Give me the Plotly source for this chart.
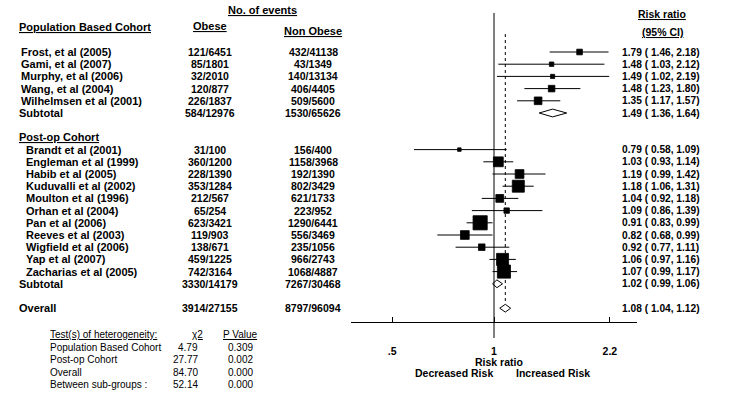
import math
import plotly.graph_objects as go

# ---------------- data ----------------
pop_studies = ["Frost, et al (2005)", "Gami, et al (2007)", "Murphy, et al (2006)",
               "Wang, et al (2004)", "Wilhelmsen et al (2001)"]
pop_obese = ["121/6451", "85/1801", "32/2010", "120/877", "226/1837"]
pop_nonobese = ["432/41138", "43/1349", "140/13134", "406/4405", "509/5600"]
pop_rr = [1.79, 1.48, 1.49, 1.48, 1.35]
pop_lo = [1.46, 1.03, 1.02, 1.23, 1.17]
pop_hi = [2.18, 2.12, 2.19, 1.80, 1.57]
pop_weight = [2.6, 1.6, 1.4, 3.5, 4.8]

post_studies = ["Brandt et al (2001)", "Engleman et al (1999)", "Habib et al (2005)",
                "Kuduvalli et al (2002)", "Moulton et al (1996)", "Orhan et al (2004)",
                "Pan et al (2006)", "Reeves et al (2003)", "Wigfield et al (2006)",
                "Yap et al (2007)", "Zacharias et al (2005)"]
post_obese = ["31/100", "360/1200", "228/1390", "353/1284", "212/567", "65/254",
              "623/3421", "119/903", "138/671", "459/1225", "742/3164"]
post_nonobese = ["156/400", "1158/3968", "192/1390", "802/3429", "621/1733", "223/952",
                 "1290/6441", "556/3469", "235/1056", "966/2743", "1068/4887"]
post_rr = [0.79, 1.03, 1.19, 1.18, 1.04, 1.09, 0.91, 0.82, 0.92, 1.06, 1.07]
post_lo = [0.58, 0.93, 0.99, 1.06, 0.92, 0.86, 0.83, 0.68, 0.77, 0.97, 0.99]
post_hi = [1.09, 1.14, 1.42, 1.31, 1.18, 1.39, 0.99, 0.99, 1.11, 1.16, 1.17]
post_weight = [1.0, 7.9, 6.2, 11.8, 5.0, 2.4, 16.4, 6.2, 3.5, 11.8, 14.0]

pooled_labels = ["Subtotal", "Subtotal", "Overall"]
pooled_obese = ["584/12976", "3330/14179", "3914/27155"]
pooled_nonobese = ["1530/65626", "7267/30468", "8797/96094"]
pooled_rr = [1.49, 1.02, 1.08]
pooled_lo = [1.36, 0.99, 1.04]
pooled_hi = [1.64, 1.06, 1.12]

het_labels = ["Population Based Cohort", "Post-op Cohort", "Overall", "Between sub-groups :"]
het_chi2 = ["4.79", "27.77", "84.70", "52.14"]
het_p = ["0.309", "0.002", "0.000", "0.000"]

tick_vals = [0.5, 1, 2.2]
tick_text = [".5", "1", "2.2"]

# ---------------- layout helpers ----------------
W, H = 744, 396
ROW0_PX, ROW_PX = 52.0, 12.2          # pixel y of row 0, pixels per row


def row_of(py):
    return (py - ROW0_PX) / ROW_PX


def px(x):
    return x / W


pop_rows = list(range(0, 5))
pop_sub_row = 5
post_header_row = 7
post_rows = list(range(8, 19))
post_sub_row = 19
overall_row = 21
pooled_rows = [pop_sub_row, post_sub_row, overall_row]

BLACK = "#000000"
FONT = "Liberation Sans, Arial, sans-serif"

fig = go.Figure()

# CI lines
ci_x, ci_y = [], []
for rows, lo, hi in [(pop_rows, pop_lo, pop_hi), (post_rows, post_lo, post_hi)]:
    for r, a, b in zip(rows, lo, hi):
        ci_x += [a, b, None]
        ci_y += [r, r, None]
fig.add_trace(go.Scatter(x=ci_x, y=ci_y, mode="lines",
                         line=dict(color=BLACK, width=1), hoverinfo="skip",
                         showlegend=False))

# weighted squares
all_rows = pop_rows + post_rows
all_rr = pop_rr + post_rr
all_w = pop_weight + post_weight
fig.add_trace(go.Scatter(x=all_rr, y=all_rows, mode="markers",
                         marker=dict(symbol="square", color=BLACK, opacity=1,
                                     size=[3.5 * math.sqrt(w) for w in all_w],
                                     line=dict(width=0.8, color=BLACK)),
                         showlegend=False))

# pooled diamonds
for r, est, a, b in zip(pooled_rows, pooled_rr, pooled_lo, pooled_hi):
    hh = 0.32
    fig.add_trace(go.Scatter(x=[a, est, b, est, a], y=[r, r - hh, r, r + hh, r],
                             mode="lines", fill="toself", fillcolor="white",
                             line=dict(color=BLACK, width=1), showlegend=False,
                             hoverinfo="skip"))

# reference lines
fig.add_shape(type="line", xref="x", yref="y", x0=1, x1=1,
              y0=row_of(13), y1=row_of(338), line=dict(color=BLACK, width=1))
fig.add_shape(type="line", xref="x", yref="y", x0=pooled_rr[2], x1=pooled_rr[2],
              y0=row_of(34), y1=overall_row - 0.35,
              line=dict(color=BLACK, width=1, dash="dot"))


def txt(x, y, s, anchor="left", bold=True, size=10.5, under=False):
    f = dict(family=FONT, size=size, color=BLACK)
    if under:
        f["lineposition"] = "under"
    fig.add_annotation(x=px(x), y=y, xref="paper", yref="y", text=(f"<b>{s}</b>" if bold else s),
                       showarrow=False, xanchor=anchor, yanchor="middle", font=f)


# headers
txt(262, row_of(10), "No. of events", "center", size=11, under=True)
txt(17, row_of(27), "Population Based Cohort", size=11, under=True)
txt(210, row_of(26), "Obese", "center", size=11, under=True)
txt(313, row_of(31), "Non Obese", "center", size=11, under=True)
txt(662, row_of(14), "Risk ratio", "center", size=10.5, under=True)
txt(662, row_of(32), "(95% CI)", "center", size=10.5, under=True)
txt(17, post_header_row, "Post-op Cohort", size=11, under=True)


def rr_str(r, a, b):
    return f"{r:.2f} ( {a:.2f}, {b:.2f})"


for rows, names, ob, nob, rr, lo, hi, nx in [
        (pop_rows, pop_studies, pop_obese, pop_nonobese, pop_rr, pop_lo, pop_hi, 19),
        (post_rows, post_studies, post_obese, post_nonobese, post_rr, post_lo, post_hi, 24)]:
    for r, n, o, no, e, a, b in zip(rows, names, ob, nob, rr, lo, hi):
        txt(nx, r, n, size=11)
        txt(210, r, o, "center")
        txt(313, r, no, "center")
        txt(620, r, rr_str(e, a, b), size=10.2)

for r, n, o, no, e, a, b in zip(pooled_rows, pooled_labels, pooled_obese, pooled_nonobese,
                                pooled_rr, pooled_lo, pooled_hi):
    txt(17, r, n, size=11)
    txt(210, r, o, "center")
    txt(313, r, no, "center")
    txt(620, r, rr_str(e, a, b), size=10.2)

# heterogeneity table
het_y = [347, 359, 372, 384]
txt(48, row_of(334), "Test(s) of heterogeneity:", bold=False, size=10, under=True)
txt(197, row_of(334), "χ2", "center", bold=False, size=10, under=True)
txt(240, row_of(334), "P Value", "center", bold=False, size=10, under=True)
for yy, l, c, p in zip(het_y, het_labels, het_chi2, het_p):
    txt(48, row_of(yy), l, bold=False, size=10)
    txt(200, row_of(yy), c, "right", bold=False, size=10)
    txt(240, row_of(yy), p, "center", bold=False, size=10)

# axis labels
txt(499, row_of(362), "Risk ratio", "center")
txt(454, row_of(373), "Decreased Risk", "center")
txt(553, row_of(373), "Increased Risk", "center")

lim = 0.4226
fig.update_layout(
    width=W, height=H, margin=dict(l=0, r=0, t=0, b=0),
    paper_bgcolor="white", plot_bgcolor="white", showlegend=False,
    xaxis=dict(type="log", range=[-lim, lim], domain=[351 / W, 637 / W],
               anchor="free", position=1 - 322 / H, showline=True,
               linecolor=BLACK, linewidth=1, ticks="inside", ticklen=5,
               tickcolor=BLACK, tickvals=tick_vals, ticktext=[f"<b>{t}</b>" for t in tick_text],
               tickfont=dict(family=FONT, size=10.5, color=BLACK),
               ticklabelstandoff=19, showgrid=False, zeroline=False),
    yaxis=dict(range=[row_of(H), row_of(0)], domain=[0, 1], visible=False,
               showgrid=False, zeroline=False),
)

# the page body has a default 8px margin; remove it so the figure fills the window
fig.write_html("out.html", config={"displayModeBar": False},
               post_script="document.body.style.margin='0px';")
